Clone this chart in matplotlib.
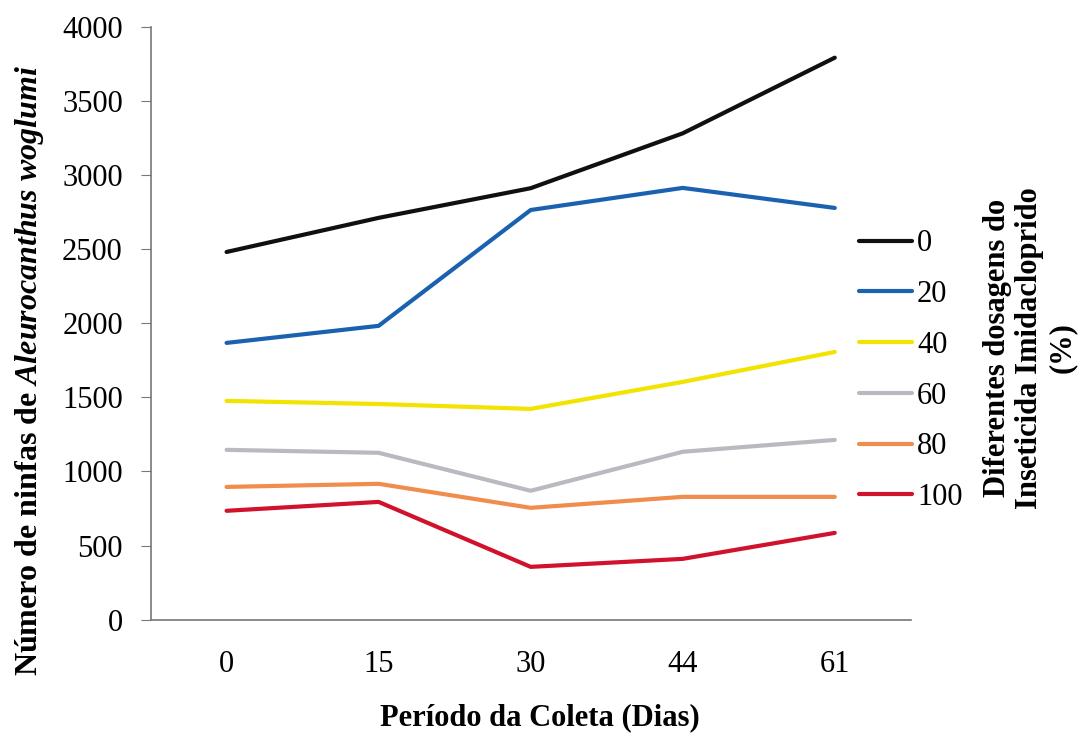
import matplotlib
matplotlib.use('Agg')
import matplotlib.pyplot as plt

plt.rcParams['font.family'] = ['Liberation Serif', 'DejaVu Serif']
plt.rcParams['mathtext.fontset'] = 'custom'
plt.rcParams['mathtext.it'] = 'Liberation Serif:italic:bold'
plt.rcParams['mathtext.rm'] = 'Liberation Serif:bold'

# dados
dias = ['0', '15', '30', '44', '61']
doses = ['0', '20', '40', '60', '80', '100']
d0 = [2480, 2710, 2910, 3280, 3790]
d20 = [1867, 1982, 2763, 2912, 2777]
d40 = [1476, 1455, 1422, 1604, 1806]
d60 = [1146, 1126, 870, 1133, 1213]
d80 = [896, 917, 755, 829, 829]
d100 = [735, 795, 357, 411, 586]
series = [d0, d20, d40, d60, d80, d100]
cores = ['#101010', '#1a62b0', '#f2e300', '#b9b9c0', '#f08c4c', '#d0122c']

fig = plt.figure(figsize=(10.83, 7.37), dpi=100)
ax = fig.add_axes([0.139, 0.159, 0.702, 0.805])

x = [i + 0.5 for i in range(len(dias))]
for vals, lab, c in zip(series, doses, cores):
    ax.plot(x, vals, color=c, linewidth=3, label=lab, solid_capstyle='round')

ax.set_xlim(0, 5)
ax.set_ylim(0, 4000)
ax.set_yticks(range(0, 4001, 500))
ax.set_xticks(x)
ax.set_xticklabels(dias)
ax.tick_params(axis='y', labelsize=22, direction='out', length=7, color='#777777', pad=13)
ax.tick_params(axis='x', labelsize=22, length=0, pad=22)
for s in ['top', 'right']:
    ax.spines[s].set_visible(False)
for s in ['left', 'bottom']:
    ax.spines[s].set_color('#777777')
    ax.spines[s].set_linewidth(1.2)

ax.set_xlabel('Período da Coleta (Dias)', fontsize=22, fontweight='bold')
ax.xaxis.set_label_coords(0.512, -0.14)
ax.set_ylabel(r'Número de ninfas de $\mathit{Aleurocanthus\ woglumi}$',
              fontsize=23, fontweight='bold')
ax.yaxis.set_label_coords(-0.138, 0.42)

fig.legend(loc='center left', bbox_to_anchor=(0.779, 0.497), frameon=False,
           fontsize=22, handlelength=1.75, handletextpad=0.15, labelspacing=0.71,
           borderpad=0)

fig.text(0.951, 0.528, 'Diferentes dosagens do\nInseticida Imidacloprido\n(%)',
         rotation=90, ha='center', va='center', multialignment='center',
         fontsize=22, fontweight='bold', linespacing=1.15)

fig.savefig('out.png', dpi=100)
